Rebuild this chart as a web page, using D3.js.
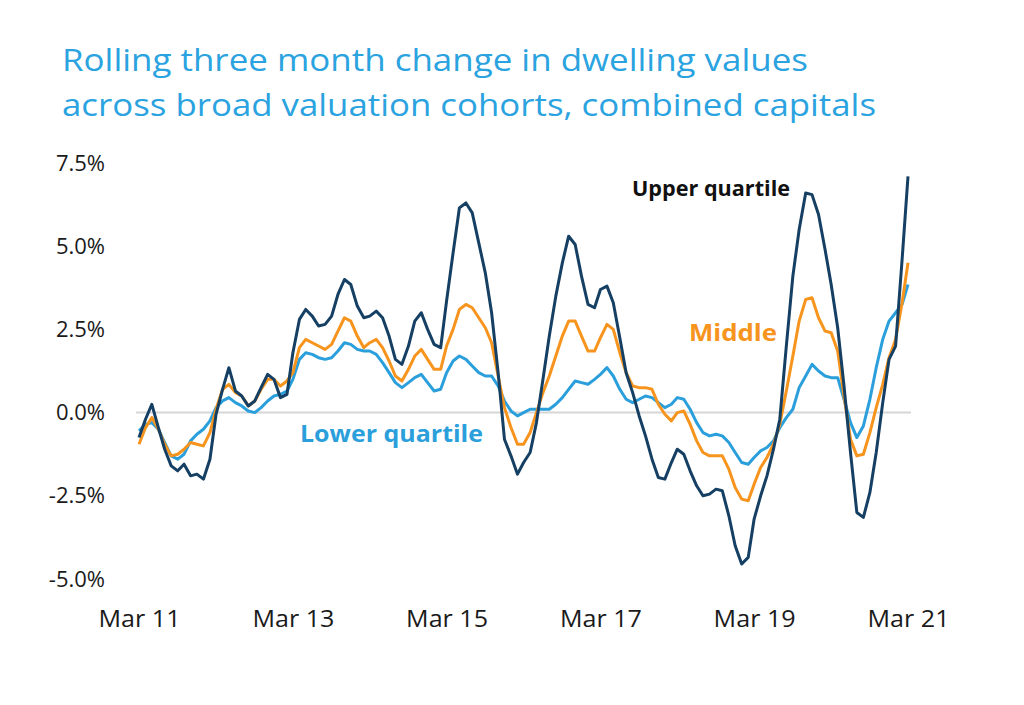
<!DOCTYPE html>
<html><head><meta charset="utf-8">
<script src="https://cdn.jsdelivr.net/npm/d3@7"></script>
<style>body{margin:0;background:#fff;} svg{display:block;}</style>
</head><body>
<svg id="chart" width="1024" height="705"></svg>
<script>
const startMonth = "2011-03";
const upperQuartile = [-0.75,-0.2,0.25,-0.45,-1.1,-1.6,-1.75,-1.55,-1.9,-1.85,-2.0,-1.4,-0.05,0.7,1.35,0.65,0.5,0.2,0.35,0.75,1.15,1.0,0.45,0.55,
 1.8,2.8,3.1,2.9,2.6,2.65,2.9,3.55,4.0,3.85,3.2,2.85,2.9,3.05,2.85,2.3,1.6,1.45,2.0,2.75,3.0,2.5,2.05,1.95,
 3.35,4.8,6.15,6.3,6.0,5.1,4.2,3.0,1.2,-0.8,-1.3,-1.85,-1.5,-1.2,-0.3,1.0,2.3,3.5,4.5,5.3,5.05,4.1,3.25,3.15,
 3.7,3.8,3.3,2.25,1.2,0.6,-0.1,-0.7,-1.4,-1.95,-2.0,-1.5,-1.1,-1.25,-1.75,-2.2,-2.5,-2.45,-2.3,-2.35,-3.1,-4.0,-4.55,-4.35,
 -3.2,-2.5,-1.9,-1.1,-0.2,2.0,4.1,5.5,6.6,6.55,5.95,4.9,3.85,2.55,0.8,-1.2,-3.0,-3.15,-2.4,-1.2,0.3,1.6,2.0,4.6,7.1];
const middle = [-0.95,-0.45,-0.15,-0.5,-0.95,-1.3,-1.25,-1.1,-0.9,-0.95,-1.0,-0.6,0.1,0.7,0.85,0.6,0.5,0.2,0.35,0.7,1.0,1.0,0.8,0.95,
 1.2,1.95,2.2,2.1,2.0,1.9,2.05,2.45,2.85,2.75,2.3,1.95,2.1,2.2,1.95,1.55,1.1,0.95,1.3,1.7,1.9,1.6,1.3,1.3,
 2.0,2.5,3.1,3.25,3.15,2.85,2.55,2.1,1.1,0.15,-0.45,-0.95,-0.95,-0.6,0.0,0.6,1.1,1.7,2.3,2.75,2.75,2.3,1.85,1.85,
 2.25,2.65,2.5,1.8,1.2,0.8,0.75,0.75,0.7,0.25,-0.05,-0.25,0.0,0.05,-0.35,-0.85,-1.2,-1.3,-1.3,-1.3,-1.7,-2.25,-2.6,-2.65,
 -2.15,-1.65,-1.35,-0.95,-0.35,0.65,1.7,2.75,3.4,3.45,2.85,2.45,2.4,1.85,0.5,-0.8,-1.3,-1.25,-0.6,0.15,0.85,1.65,2.2,3.3,4.5];
const lowerQuartile = [-0.55,-0.35,-0.3,-0.5,-0.9,-1.3,-1.4,-1.25,-0.85,-0.65,-0.5,-0.25,0.15,0.35,0.45,0.3,0.2,0.05,0.0,0.15,0.35,0.5,0.55,0.65,
 1.0,1.6,1.8,1.75,1.65,1.6,1.65,1.85,2.1,2.05,1.9,1.85,1.85,1.75,1.5,1.2,0.9,0.75,0.9,1.05,1.15,0.9,0.65,0.7,
 1.2,1.55,1.7,1.6,1.4,1.2,1.1,1.1,0.8,0.35,0.05,-0.1,0.0,0.1,0.1,0.1,0.1,0.25,0.45,0.7,0.95,0.9,0.85,1.0,
 1.15,1.35,1.1,0.7,0.4,0.3,0.4,0.5,0.45,0.3,0.15,0.25,0.45,0.4,0.1,-0.3,-0.6,-0.7,-0.65,-0.7,-0.9,-1.2,-1.5,-1.55,
 -1.35,-1.15,-1.05,-0.85,-0.45,-0.15,0.1,0.75,1.1,1.45,1.25,1.1,1.05,1.05,0.4,-0.3,-0.75,-0.4,0.4,1.35,2.2,2.75,3.0,3.25,3.85];
const yTicks = [-5, -2.5, 0, 2.5, 5, 7.5];
const xTickLabels = ["Mar 11","Mar 13","Mar 15","Mar 17","Mar 19","Mar 21"];
const titleLines = ["Rolling three month change in dwelling values","across broad valuation cohorts, combined capitals"];

const series = [
  {name:"Lower quartile", values: lowerQuartile, color:"#2A9FDB", label:{x:300, y:442, len:183, size:24}},
  {name:"Middle", values: middle, color:"#F7941D", label:{x:689, y:341, len:88, size:24}},
  {name:"Upper quartile", values: upperQuartile, color:"#153F63", label:{x:632, y:196, len:158, size:22, color:"#111"}}
];

const parse = d3.timeParse("%Y-%m");
const t0 = parse(startMonth);
const dates = upperQuartile.map((_, i) => d3.timeMonth.offset(t0, i));

const svg = d3.select("#chart");
const x = d3.scaleTime().domain([dates[0], dates[dates.length-1]]).range([139, 908]);
const y = d3.scaleLinear().domain([-5, 7.5]).range([579, 163]);

// Title
svg.append("g").selectAll("text").data(titleLines).join("text")
  .attr("x", 62).attr("y", (d,i) => 71 + i*45)
  .attr("font-family", "'Open Sans', sans-serif").attr("font-size", 31)
  .attr("fill", "#2AA3E0")
  .attr("textLength", (d,i) => i === 0 ? 746 : 814)
  .attr("lengthAdjust", "spacingAndGlyphs")
  .text(d => d);

// zero line
svg.append("line").attr("x1", 136).attr("x2", 911).attr("y1", y(0)).attr("y2", y(0))
  .attr("stroke", "#d6d6d6").attr("stroke-width", 2);

// Y axis
const yAxis = svg.append("g").attr("transform", "translate(105,0)")
  .call(d3.axisLeft(y).tickValues(yTicks).tickSize(0).tickPadding(0)
    .tickFormat(d => (d < 0 ? "-" : "") + Math.abs(d).toFixed(1) + "%"));
yAxis.select(".domain").remove();
yAxis.selectAll("text").attr("font-family", "'Open Sans', sans-serif").attr("font-size", 22).attr("fill", "#1a1a1a");

// X axis
const xTickDates = xTickLabels.map(s => d3.timeParse("%b %y")(s));
const xAxis = svg.append("g").attr("transform", "translate(0,611)")
  .call(d3.axisBottom(x).tickValues(xTickDates).tickSize(0).tickPadding(0)
    .tickFormat((d,i) => xTickLabels[i]));
xAxis.select(".domain").remove();
xAxis.selectAll("text").attr("font-family", "'Open Sans', sans-serif").attr("font-size", 23).attr("fill", "#1a1a1a")
  .attr("textLength", 82).attr("lengthAdjust", "spacingAndGlyphs");

// Lines
const line = d3.line().x((d,i) => x(dates[i])).y(d => y(d));
svg.append("g").selectAll("path").data(series).join("path")
  .attr("d", d => line(d.values))
  .attr("fill", "none").attr("stroke", d => d.color).attr("stroke-width", 3)
  .attr("stroke-linejoin", "round");

// Labels
svg.append("g").selectAll("text").data(series).join("text")
  .attr("x", d => d.label.x).attr("y", d => d.label.y)
  .attr("font-family", "'Open Sans', sans-serif").attr("font-weight", "bold").attr("font-size", d => d.label.size)
  .attr("fill", d => d.label.color || d.color)
  .attr("textLength", d => d.label.len).attr("lengthAdjust", "spacingAndGlyphs")
  .text(d => d.name);
</script>
</body></html>
